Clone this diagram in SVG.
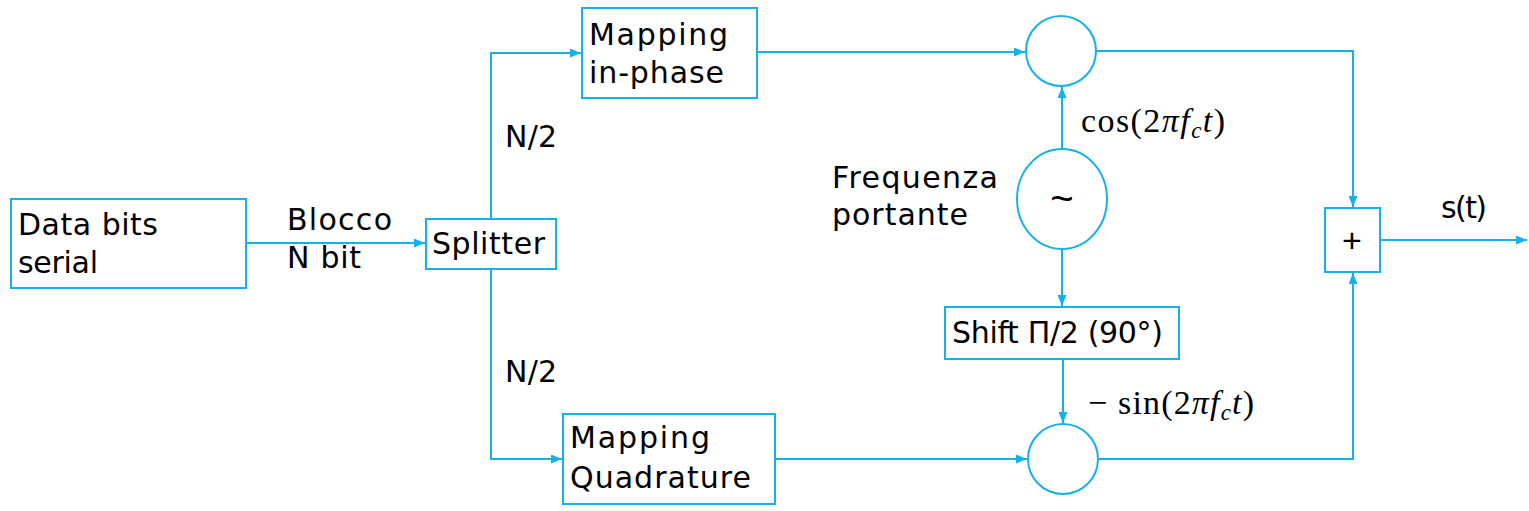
<svg xmlns="http://www.w3.org/2000/svg" width="1529" height="511" viewBox="0 0 1529 511">
<style>
.b{fill:#fff;stroke:#16B0EA;stroke-width:2}
.c{fill:none;stroke:#16B0EA;stroke-width:2}
.t{font-family:"DejaVu Sans","Open Sans",sans-serif;font-size:30px;fill:#000}
.m{font-family:"Liberation Serif",serif;font-size:34px;fill:#000}
.mi{font-style:italic}
</style>
<defs>
<marker id="a" viewBox="0 0 10 10" refX="10" refY="5" markerWidth="11" markerHeight="9" orient="auto" markerUnits="userSpaceOnUse" preserveAspectRatio="none">
<path d="M0,0 L10,5 L0,10 z" fill="#16B0EA"/>
</marker>
</defs>
<rect width="1529" height="511" fill="#fff"/>
<g id="connectors">
<path class="c" d="M246,243 H425" marker-end="url(#a)"/>
<path class="c" d="M491,219 V53 H581" marker-end="url(#a)"/>
<path class="c" d="M491,269 V459 H562" marker-end="url(#a)"/>
<path class="c" d="M757,52 H1025" marker-end="url(#a)"/>
<path class="c" d="M775,459 H1027" marker-end="url(#a)"/>
<path class="c" d="M1062,148 V87" marker-end="url(#a)"/>
<path class="c" d="M1062,249 V306" marker-end="url(#a)"/>
<path class="c" d="M1063,359 V423" marker-end="url(#a)"/>
<path class="c" d="M1097,51 H1353 V207" marker-end="url(#a)"/>
<path class="c" d="M1099,459 H1353 V273" marker-end="url(#a)"/>
<path class="c" d="M1380,240 H1527" marker-end="url(#a)"/>
</g>
<g id="data">
<rect class="b" x="11" y="199" width="235" height="89"/>
<text class="t" x="18" y="235" textLength="140" lengthAdjust="spacing">Data bits</text>
<text class="t" x="18" y="273" textLength="80" lengthAdjust="spacing">serial</text>
</g>
<g id="blocco-label">
<text class="t" x="287" y="230" textLength="105" lengthAdjust="spacing">Blocco</text>
<text class="t" x="287" y="268" textLength="74" lengthAdjust="spacing">N bit</text>
</g>
<g id="splitter">
<rect class="b" x="426" y="219" width="130" height="50"/>
<text class="t" x="432" y="254" textLength="113" lengthAdjust="spacing">Splitter</text>
</g>
<g id="n2-labels">
<text class="t" x="505" y="147" textLength="52" lengthAdjust="spacing">N/2</text>
<text class="t" x="505" y="382" textLength="52" lengthAdjust="spacing">N/2</text>
</g>
<g id="map-i">
<rect class="b" x="582" y="8" width="175" height="90"/>
<text class="t" x="589" y="45" textLength="139" lengthAdjust="spacing">Mapping</text>
<text class="t" x="589" y="83" textLength="135" lengthAdjust="spacing">in-phase</text>
</g>
<g id="map-q">
<rect class="b" x="563" y="414" width="212" height="90"/>
<text class="t" x="570" y="448" textLength="140" lengthAdjust="spacing">Mapping</text>
<text class="t" x="570" y="488" textLength="181" lengthAdjust="spacing">Quadrature</text>
</g>
<g id="mult-i">
<circle class="b" cx="1061" cy="51" r="35"/>
</g>
<g id="mult-q">
<circle class="b" cx="1063" cy="459" r="35"/>
</g>
<g id="osc">
<ellipse class="b" cx="1062" cy="199" rx="45" ry="50"/>
<text x="1062" y="212" text-anchor="middle" font-family="Liberation Sans, sans-serif" font-size="40" fill="#000">~</text>
</g>
<g id="freq-label">
<text class="t" x="832" y="188" textLength="166" lengthAdjust="spacing">Frequenza</text>
<text class="t" x="832" y="225" textLength="136" lengthAdjust="spacing">portante</text>
</g>
<g id="cos-label">
<text class="m" x="1081" y="132" textLength="144" lengthAdjust="spacing">cos(2<tspan class="mi">πf</tspan><tspan class="mi" font-size="23" dy="6">c</tspan><tspan class="mi" dy="-6">t</tspan>)</text>
</g>
<g id="shift">
<rect class="b" x="945" y="307" width="234" height="52"/>
<text class="t" x="952" y="343" textLength="211" lengthAdjust="spacing">Shift Π/2 (90°)</text>
</g>
<g id="sin-label">
<text class="m" x="1088" y="414" textLength="166" lengthAdjust="spacing">− sin(2<tspan class="mi">πf</tspan><tspan class="mi" font-size="23" dy="6">c</tspan><tspan class="mi" dy="-6">t</tspan>)</text>
</g>
<g id="sum">
<rect class="b" x="1325" y="208" width="55" height="64"/>
<text x="1352" y="252" text-anchor="middle" font-family="Liberation Sans, sans-serif" font-size="34" fill="#000">+</text>
</g>
<g id="st-label">
<text class="t" x="1441" y="218" textLength="46" lengthAdjust="spacing">s(t)</text>
</g>
</svg>
